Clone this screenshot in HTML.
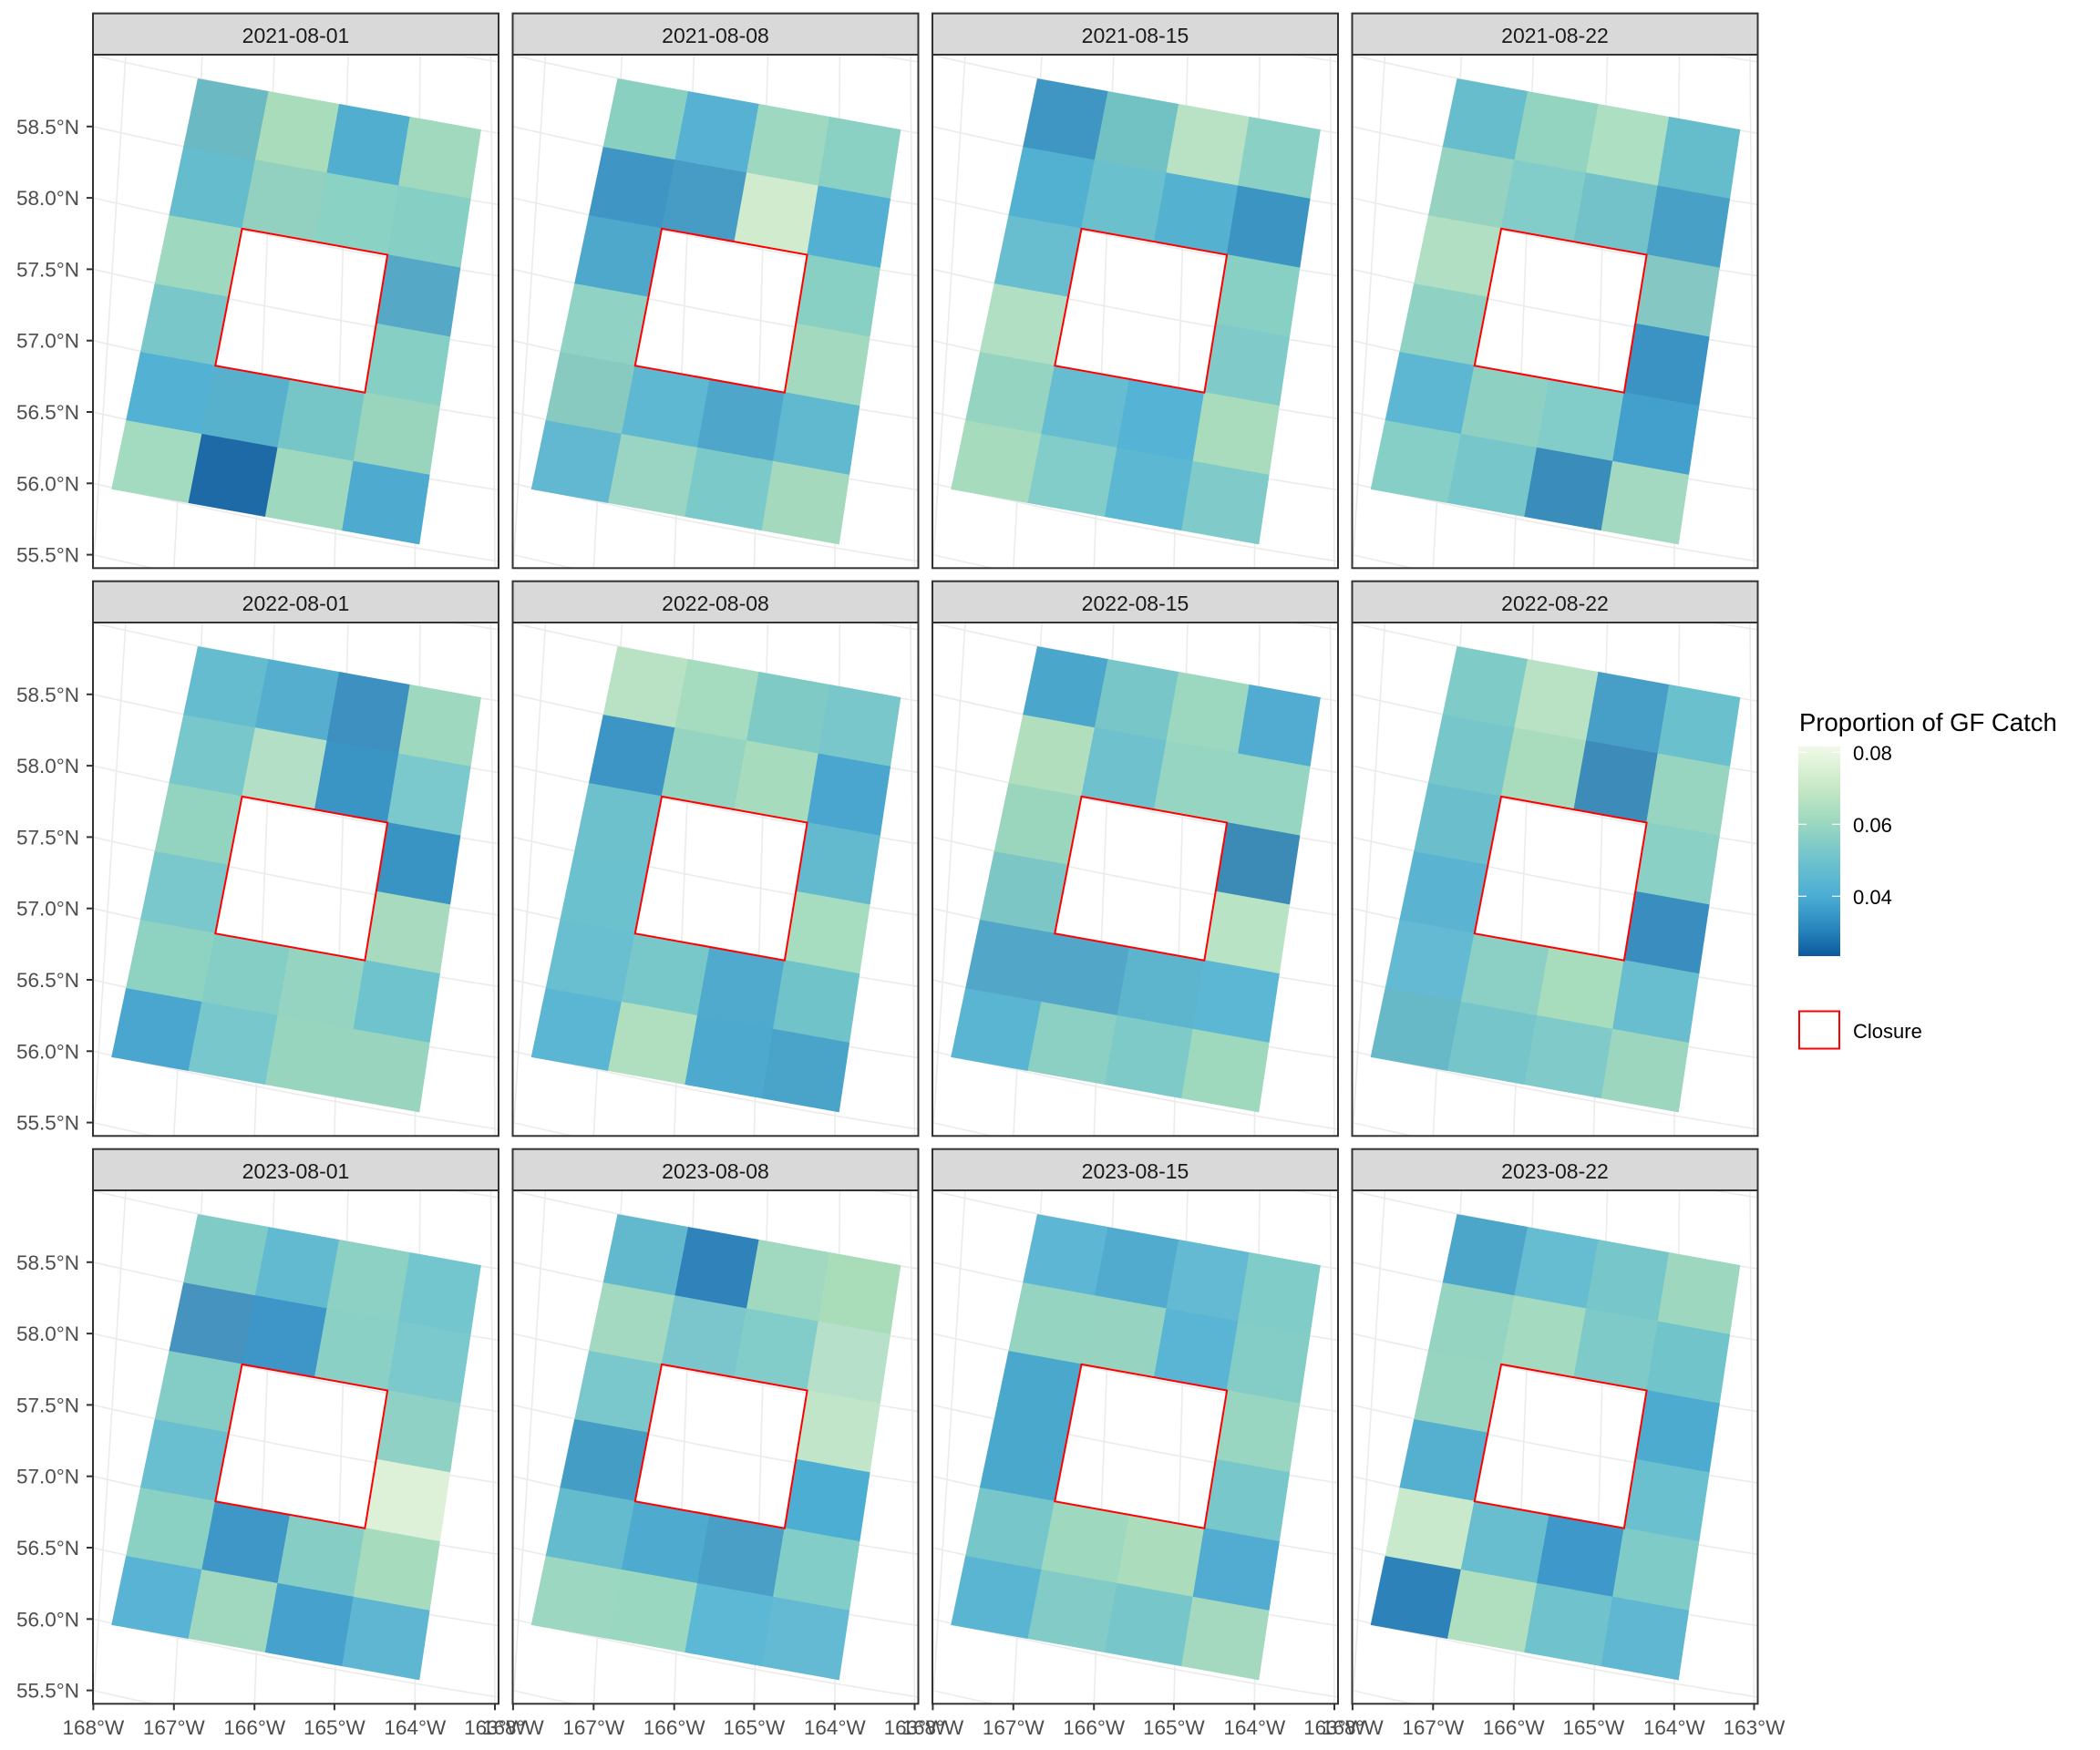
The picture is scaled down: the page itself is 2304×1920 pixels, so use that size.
<!DOCTYPE html>
<html><head><meta charset="utf-8"><style>
html,body{margin:0;padding:0;background:#fff;overflow:hidden;width:2304px;height:1920px}
svg{display:block}
text{font-family:"Liberation Sans",Arial,sans-serif}
</style></head><body>
<svg id="s" xmlns="http://www.w3.org/2000/svg" width="2304" height="1920" viewBox="0 0 2304 1920">
<rect width="2304" height="1920" fill="#fff"/>
<g id="panels"></g>
<g id="texts" fill="#1a1a1a" font-size="23" text-anchor="middle">
<g transform="translate(0,0)">
<text x="324.5" y="47">2021-08-01</text><text x="785" y="47">2021-08-08</text><text x="1245.5" y="47">2021-08-15</text><text x="1706" y="47">2021-08-22</text>
</g>
<g transform="translate(0,623)">
<text x="324.5" y="47">2022-08-01</text><text x="785" y="47">2022-08-08</text><text x="1245.5" y="47">2022-08-15</text><text x="1706" y="47">2022-08-22</text>
</g>
<g transform="translate(0,1246)">
<text x="324.5" y="47">2023-08-01</text><text x="785" y="47">2023-08-08</text><text x="1245.5" y="47">2023-08-15</text><text x="1706" y="47">2023-08-22</text>
</g>
</g>
<g fill="#4d4d4d" font-size="22.5" text-anchor="end">
<g transform="translate(0,0)"><text x="87" y="146.8">58.5°N</text><text x="87" y="225.1">58.0°N</text><text x="87" y="303.4">57.5°N</text><text x="87" y="381.7">57.0°N</text><text x="87" y="460">56.5°N</text><text x="87" y="538.3">56.0°N</text><text x="87" y="616.6">55.5°N</text></g>
<g transform="translate(0,623)"><text x="87" y="146.8">58.5°N</text><text x="87" y="225.1">58.0°N</text><text x="87" y="303.4">57.5°N</text><text x="87" y="381.7">57.0°N</text><text x="87" y="460">56.5°N</text><text x="87" y="538.3">56.0°N</text><text x="87" y="616.6">55.5°N</text></g>
<g transform="translate(0,1246)"><text x="87" y="146.8">58.5°N</text><text x="87" y="225.1">58.0°N</text><text x="87" y="303.4">57.5°N</text><text x="87" y="381.7">57.0°N</text><text x="87" y="460">56.5°N</text><text x="87" y="538.3">56.0°N</text><text x="87" y="616.6">55.5°N</text></g>
</g>
<g fill="#4d4d4d" font-size="22.5" text-anchor="middle">
<g transform="translate(102,1903)"><text x="0.4">168°W</text><text x="88.8">167°W</text><text x="177.2">166°W</text><text x="264.9">165°W</text><text x="353.3">164°W</text><text x="441">163°W</text></g>
<g transform="translate(562.5,1903)"><text x="0.4">168°W</text><text x="88.8">167°W</text><text x="177.2">166°W</text><text x="264.9">165°W</text><text x="353.3">164°W</text><text x="441">163°W</text></g>
<g transform="translate(1023,1903)"><text x="0.4">168°W</text><text x="88.8">167°W</text><text x="177.2">166°W</text><text x="264.9">165°W</text><text x="353.3">164°W</text><text x="441">163°W</text></g>
<g transform="translate(1483.5,1903)"><text x="0.4">168°W</text><text x="88.8">167°W</text><text x="177.2">166°W</text><text x="264.9">165°W</text><text x="353.3">164°W</text><text x="441">163°W</text></g>
</g>
<defs><linearGradient id="cb" x1="0" y1="0" x2="0" y2="1">
<stop offset="0" stop-color="#f0f9e8"/><stop offset="0.027" stop-color="#ebf7e2"/><stop offset="0.2" stop-color="#c6e8c4"/><stop offset="0.37" stop-color="#9ad7bf"/><stop offset="0.54" stop-color="#6fc2cd"/><stop offset="0.71" stop-color="#4caed4"/><stop offset="0.86" stop-color="#2b88bf"/><stop offset="1" stop-color="#0d599e"/>
</linearGradient></defs>
<text x="1974" y="802" font-size="27.5" fill="#000">Proportion of GF Catch</text>
<rect x="1973" y="819" width="46" height="230" fill="url(#cb)"/>
<g stroke="#fff" stroke-width="1.2">
<line x1="1973" x2="1982" y1="825.3" y2="825.3"/><line x1="2010" x2="2019" y1="825.3" y2="825.3"/>
<line x1="1973" x2="1982" y1="904.3" y2="904.3"/><line x1="2010" x2="2019" y1="904.3" y2="904.3"/>
<line x1="1973" x2="1982" y1="983.3" y2="983.3"/><line x1="2010" x2="2019" y1="983.3" y2="983.3"/>
</g>
<g font-size="22" fill="#000"><text x="2033" y="834">0.08</text><text x="2033" y="913">0.06</text><text x="2033" y="992">0.04</text>
<text x="2033" y="1139">Closure</text></g>
<rect x="1974" y="1109.5" width="44" height="41" fill="#fff" stroke="#ff0000" stroke-width="2"/>
</svg>
<script>
(function(){
var NS="http://www.w3.org/2000/svg";
var P=document.getElementById("panels");
function el(n,a,p){var e=document.createElementNS(NS,n);for(var k in a)e.setAttribute(k,a[k]);(p||P).appendChild(e);return e;}
var cols=[102,562.5,1023,1483.5], rows=[14.7,637.7,1260.7];
var W=445,H=563.3,SH=45.3;
var TL=[115.3,26.5],TR=[425.4,82.4],BL=[20.7,476.5],BR=[357.9,536.9];
function bl(u,v){var tx=TL[0]+u*(TR[0]-TL[0]),ty=TL[1]+u*(TR[1]-TL[1]);var bx=BL[0]+u*(BR[0]-BL[0]),by=BL[1]+u*(BR[1]-BL[1]);return [tx+v*(bx-tx),ty+v*(by-ty)];}
var D=[
"6bb9c3 a8dcbb 52aecf a0d9bd 64bccc 92d0c0 8ad2c4 85cfc4 9ed8bf - - 55a9c7 79c7c9 - - 86cfc4 53b1d3 57b1cd 76c6c8 98d5bc a3dbc0 1e6aa7 9ed8be 4faacf",
"8ad0c1 56b1d3 9ed8c0 8ad1c4 3f95c3 479cc5 d0ebcd 54b0d3 4ea8cc - - 88d0c4 90d3c5 - - a3d9bf 88cac0 5eb8d2 4ea7cb 60b9cf 62b8d0 9ad5c3 7bcac9 a5d9be",
"3f96c2 72c2c4 b8e2c3 8ad0c4 52b0d0 6bc0cd 55b1d0 3c94c3 68bdcf - - 88d0c4 b0dfc3 - - 80cbc9 94d4c1 66bcd0 55b3d5 a8dcbc a6dcbd 82cdc9 5cb7d3 80cbc9",
"67bdcb 93d4c0 addfc2 65bccb 95d3c0 82cdc9 74c2c9 48a0c7 b0dfc3 - - 85c8c3 8fd1c3 - - 3a93c2 5db7d3 8ed1c3 82cdc9 43a0cd 86cfc6 77c6ca 3a8cbb a2d9c0",
"66bccf 56aecf 3d90c0 9dd8bf 78c7ca b2dfc5 3b95c4 7bc9cc 93d4c0 - - 3a94c3 7ac8cb - - a8dac0 8ed2c2 85cec6 95d4c1 6fc3cc 4aa6cf 78c7cc 98d5bf 98d4be",
"b8e2c3 a5dbbf 7fcac4 79c7ca 3c95c5 96d4c2 a6dcbd 4aa6cf 6dc1cd - - 63bacf 6bc1ce - - a6dcc0 69bfcf 79c8c9 4faace 71c3ca 5bb6d3 b0dfbf 4ea9ce 4aa4c9",
"4aa6cb 79c6c9 9cd8c0 52acd1 b1dfbd 70c1ce 96d5c1 95d5c1 9ad5be - - 3c8bb7 7cc6c6 - - b8e3c4 52a6c8 52a6c8 5cb4cd 5cb7d4 5ab5d2 8bd0c3 7dcac8 9ed8bd",
"7fcbc7 b8e2c3 479ec7 6bc0ce 76c6ca a8dcbc 3d8bb8 97d5c1 6bbfcd - - 8bd0c4 5ab4d1 - - 3a8ebf 63bad2 8ccfc5 a7dcbd 68bdce 67b9c8 76c5ca 80cbc9 9cd6bf",
"80cbc6 62bad0 8dd0c4 74c6ce 4593be 3d95c8 8ad0c4 7bc9cc 84cdc6 - - 8fd1c4 69bfd0 - - ddf0d8 8ad1c3 3f97c7 86cdc5 a6dbbd 58b3d4 a0d8bf 46a1cc 5fb6d2",
"62b8cd 2f82ba a1d9c0 a9dcb9 a2d9c0 7ac6cc 82cdc9 b6e0c9 7ac8cb - - c0e5c9 449dc4 - - 4daed3 64bbce 4eabcf 499fc5 82cdc7 9cd7c2 9ad7c0 5db8d5 64bad2",
"5db6d3 51abce 64bad2 80ccc9 94d4c0 96d4c1 5ab5d4 84cdc6 4aa8cd - - 98d6c1 4ba8cd - - 78c7ca 77c6ca 9dd8bf abddbc 52acd2 5ab5d2 82cbc6 77c6ca a5d9bf",
"4ca6ca 66bcd0 77c7ca 9dd7c0 95d4c1 a3dac0 7dcac8 72c4cb 98d5c0 - - 4eabd0 55b0d0 - - 6ac0ce c8e9cb 68bdcf 3e98c9 7ecbc7 2e82ba b0dfc0 70c2cc 5fb7d2"
];
var xt=[0.4,88.8,177.2,264.9,353.3,441],xtop=[36,120,199,280,359,436.5];
for(var r=0;r<3;r++)for(var c=0;c<4;c++){
 var x0=cols[c],y0=rows[r]+SH,idx=r*4+c;
 var g=el("g",{transform:"translate("+x0+","+y0+")"});
 var cp=el("clipPath",{id:"cp"+idx},g);el("rect",{x:0,y:0,width:W,height:H},cp);
 var gg=el("g",{"clip-path":"url(#cp"+idx+")"},g);
 for(var k=-2;k<9;k++){var ly=0.5+k*78.3;
  el("path",{d:"M0,"+ly+" Q227,"+(ly+52)+" "+W+","+(ly+85.6),fill:"none",stroke:"#ebebeb","stroke-width":1.6},gg);}
 for(var m=0;m<6;m++){el("line",{x1:xt[m],y1:H,x2:xtop[m],y2:0,stroke:"#ebebeb","stroke-width":1.6},gg);}
 var cs=D[idx].split(" ");
 for(var i=0;i<6;i++)for(var j=0;j<4;j++){var col=cs[i*4+j];if(col=="-")continue;
  var a=bl(j/4,i/6),b=bl((j+1)/4,i/6),d=bl((j+1)/4,(i+1)/6),e=bl(j/4,(i+1)/6);
  el("polygon",{points:a+" "+b+" "+d+" "+e,fill:"#"+col,stroke:"#"+col,"stroke-width":0.8},gg);}
 var a=bl(0.25,2/6),b=bl(0.75,2/6),d=bl(0.75,4/6),e=bl(0.25,4/6);
 el("polygon",{points:a+" "+b+" "+d+" "+e,fill:"none",stroke:"#ff0000","stroke-width":2},gg);
 el("rect",{x:0,y:0,width:W,height:H,fill:"none",stroke:"#333","stroke-width":2},g);
 el("rect",{x:0,y:-SH,width:W,height:SH,fill:"#d9d9d9",stroke:"#333","stroke-width":2},g);
 if(c==0){for(var t=0;t<7;t++){var ty=78.8+t*78.3;el("line",{x1:-7,x2:0,y1:ty,y2:ty,stroke:"#333","stroke-width":2},g);}}
 if(r==2){for(var t=0;t<6;t++){el("line",{x1:xt[t],x2:xt[t],y1:H,y2:H+7,stroke:"#333","stroke-width":2},g);}}
}
})();
</script>
</body></html>
